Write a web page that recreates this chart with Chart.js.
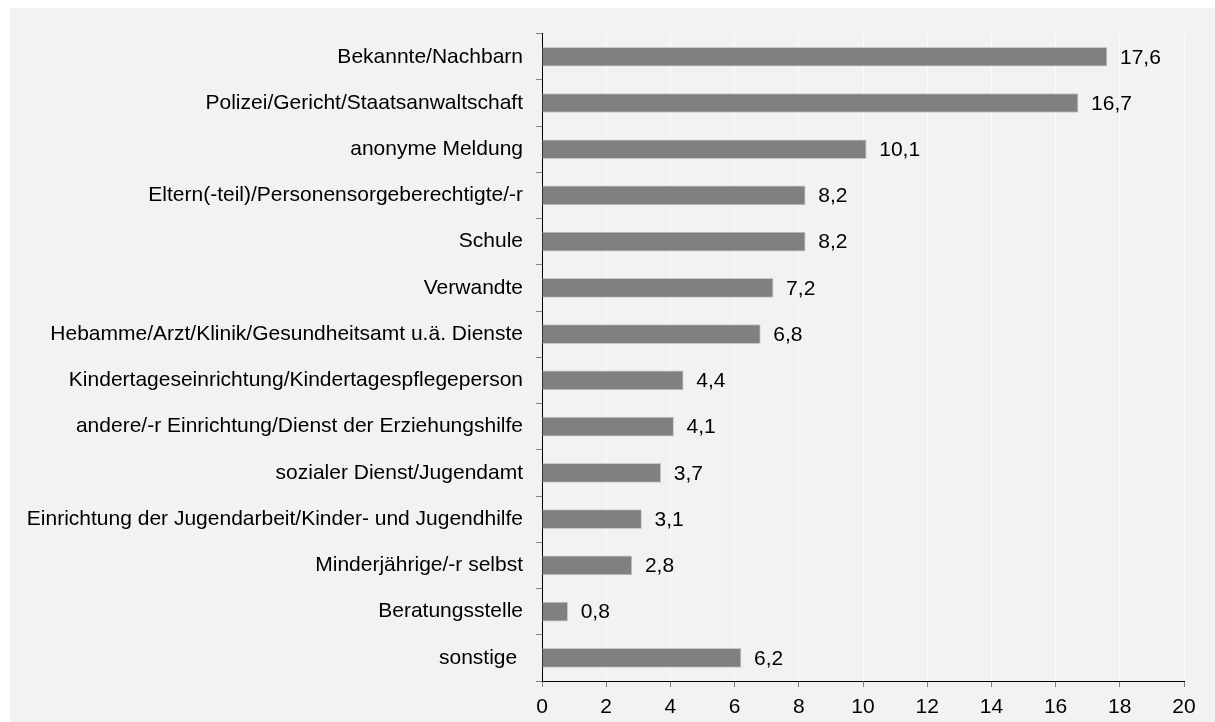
<!DOCTYPE html>
<html>
<head>
<meta charset="utf-8">
<script src="https://cdn.jsdelivr.net/npm/chart.js@4/dist/chart.umd.min.js"></script>
<style>
    html, body { margin: 0; padding: 0; background: #ffffff; }
    #box {
        position: absolute;
        left: 10px;
        top: 8px;
        width: 1205px;
        height: 714px;
        background: #f2f2f2;
    }
</style>
</head>
<body>
<div id="box"><canvas id="chart"></canvas></div>
<script>
const categories = [
    'Bekannte/Nachbarn',
    'Polizei/Gericht/Staatsanwaltschaft',
    'anonyme Meldung',
    'Eltern(-teil)/Personensorgeberechtigte/-r',
    'Schule',
    'Verwandte',
    'Hebamme/Arzt/Klinik/Gesundheitsamt u.ä. Dienste',
    'Kindertageseinrichtung/Kindertagespflegeperson',
    'andere/-r Einrichtung/Dienst der Erziehungshilfe',
    'sozialer Dienst/Jugendamt',
    'Einrichtung der Jugendarbeit/Kinder- und Jugendhilfe',
    'Minderjährige/-r selbst',
    'Beratungsstelle',
    'sonstige '
];
const values = [17.6, 16.7, 10.1, 8.2, 8.2, 7.2, 6.8, 4.4, 4.1, 3.7, 3.1, 2.8, 0.8, 6.2];
const xTicks = [0, 2, 4, 6, 8, 10, 12, 14, 16, 18, 20];

const fontFamily = '"Liberation Sans", Arial, sans-serif';

// value labels right of each bar, decimal comma
const valueLabels = {
    id: 'valueLabels',
    afterDatasetsDraw(chart) {
        const ctx = chart.ctx;
        const meta = chart.getDatasetMeta(0);
        ctx.save();
        ctx.font = '21px ' + fontFamily;
        ctx.fillStyle = '#000000';
        ctx.textAlign = 'left';
        ctx.textBaseline = 'middle';
        meta.data.forEach((bar, i) => {
            const txt = values[i].toFixed(1).replace('.', ',');
            ctx.fillText(txt, bar.x + 13, bar.y + 1);
        });
        ctx.restore();
    }
};

new Chart(document.getElementById('chart'), {
    type: 'bar',
    data: {
        labels: categories,
        datasets: [{
            data: values,
            backgroundColor: '#808080',
            borderColor: '#c8c8c8',
            borderWidth: 1,
            barThickness: 19
        }]
    },
    options: {
        indexAxis: 'y',
        responsive: true,
        maintainAspectRatio: false,
        animation: false,
        layout: {
            padding: { left: 0, right: 31, top: 23, bottom: 0 }
        },
        plugins: {
            legend: { display: false },
            tooltip: { enabled: false }
        },
        scales: {
            x: {
                min: 0,
                max: 20,
                afterBuildTicks: (axis) => {
                    axis.ticks = xTicks.map(v => ({ value: v }));
                },
                afterFit: (axis) => { axis.height = 41; },
                border: { display: true, color: '#000000', width: 1 },
                grid: {
                    color: '#fbfbfb',
                    tickColor: '#808080',
                    tickLength: 6,
                    drawOnChartArea: true
                },
                ticks: {
                    color: '#000000',
                    padding: 8,
                    font: { family: fontFamily, size: 21 }
                }
            },
            y: {
                afterFit: (axis) => { axis.width = 532; },
                border: { display: true, color: '#000000', width: 1 },
                grid: {
                    offset: true,
                    drawOnChartArea: false,
                    tickColor: '#808080',
                    tickLength: 6
                },
                ticks: {
                    color: '#000000',
                    padding: 13,
                    autoSkip: false,
                    font: { family: fontFamily, size: 21 }
                }
            }
        }
    },
    plugins: [valueLabels]
});
</script>
</body>
</html>
